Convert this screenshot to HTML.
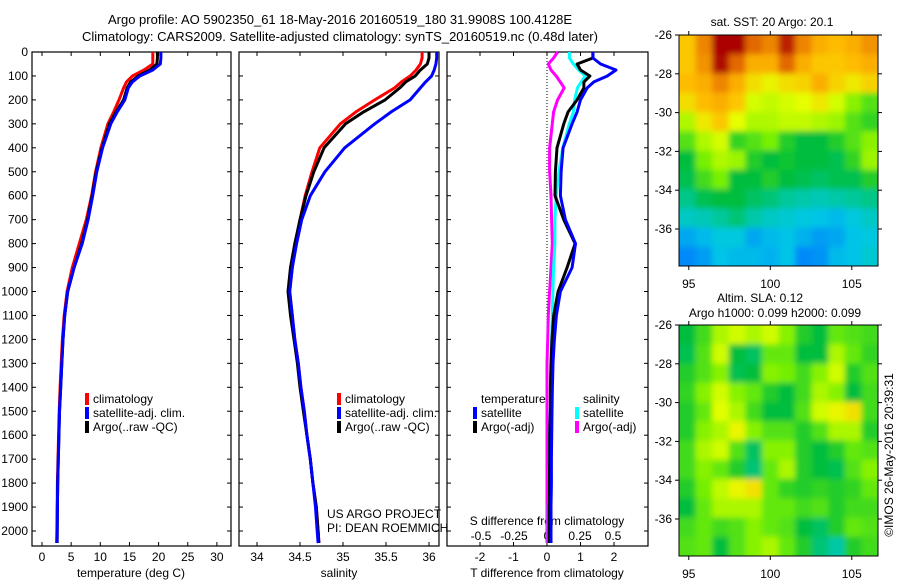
<!DOCTYPE html>
<html><head><meta charset="utf-8"><style>
html,body{margin:0;padding:0;background:#fff}
svg{display:block;font-family:"Liberation Sans",sans-serif}
</style></head><body>
<svg id="fig" width="900" height="580" viewBox="0 0 900 580">
<defs>
<clipPath id="cm1"><rect x="679" y="35" width="199" height="231"/></clipPath>
<clipPath id="cm2"><rect x="679" y="325" width="199" height="231"/></clipPath>
<filter id="bl" x="-5%" y="-5%" width="110%" height="110%"><feGaussianBlur stdDeviation="3"/></filter>
</defs>
<text x="340" y="24" font-size="13" text-anchor="middle">Argo profile: AO 5902350_61 18-May-2016 20160519_180 31.9908S 100.4128E</text>
<text x="340" y="41" font-size="13" text-anchor="middle">Climatology: CARS2009. Satellite-adjusted climatology: synTS_20160519.nc (0.48d later)</text>
<g id="g"></g>
</svg>
<script>
// depth levels (m)
const depths=[0,25,50,75,100,125,150,200,250,300,400,500,600,700,800,900,1000,1100,1200,1300,1400,1500,1600,1700,1800,1900,2000,2050];
const tempClim=[19,19,19,17.5,15.5,14.5,14.0,13.2,12.3,11.3,10.1,9.2,8.5,7.6,6.4,5.2,4.3,3.8,3.5,3.3,3.1,2.95,2.85,2.75,2.65,2.6,2.55,2.5];
const tempSat=[20.4,20.4,20.3,19,16.8,15.5,14.8,14.2,12.9,11.8,10.4,9.4,8.7,7.9,6.9,5.5,4.4,3.9,3.6,3.4,3.2,3.0,2.9,2.8,2.7,2.65,2.6,2.55];
const tempArgo=[19.8,19.8,19.7,18.5,16.5,15.2,14.6,14.0,12.7,11.6,10.3,9.3,8.6,7.8,6.8,5.5,4.4,3.9,3.6,3.4,3.2,3.0,2.9,2.8,2.7,2.65,2.6,2.6];
const salClim=[35.92,35.92,35.9,35.85,35.78,35.68,35.6,35.37,35.15,34.97,34.73,34.64,34.56,34.5,34.45,34.41,34.38,34.41,34.44,34.48,34.51,34.55,34.58,34.62,34.65,34.69,34.71,34.72];
const salSat=[36.09,36.09,36.08,36.06,36.03,35.96,35.9,35.78,35.56,35.37,35.02,34.79,34.62,34.52,34.46,34.41,34.38,34.41,34.44,34.48,34.51,34.55,34.58,34.62,34.65,34.68,34.7,34.71];
const salArgo=[36.0,36.0,35.98,35.9,35.84,35.73,35.66,35.49,35.24,35.03,34.78,34.66,34.57,34.5,34.44,34.39,34.36,34.39,34.43,34.47,34.5,34.54,34.58,34.62,34.65,34.69,34.71,34.72];
const dTsat=[1.37,1.37,1.6,2.06,1.8,1.4,1.2,1.0,0.9,0.75,0.48,0.42,0.4,0.55,0.85,0.75,0.4,0.28,0.22,0.18,0.16,0.15,0.14,0.13,0.13,0.12,0.12,0.12];
const dTargo=[1.37,1.37,0.9,1.0,1.28,1.1,1.1,0.9,0.63,0.5,0.3,0.25,0.24,0.5,0.84,0.6,0.33,0.2,0.15,0.12,0.1,0.1,0.08,0.08,0.07,0.06,0.06,0.06];
const dSsat=[0.17,0.17,0.2,0.24,0.29,0.26,0.23,0.21,0.2,0.17,0.12,0.09,0.07,0.06,0.06,0.05,0.045,0.04,0.035,0.03,0.03,0.025,0.02,0.02,0.015,0.01,0.01,0.01];
const dSargo=[0.08,0.05,0.01,0.03,0.07,0.1,0.13,0.08,0.05,0.04,0.02,0.02,0.03,0.035,0.04,0.03,0.02,0.01,0.005,0,0,0,0,0,0,0,0,0];
const depthTicks=[0,100,200,300,400,500,600,700,800,900,1000,1100,1200,1300,1400,1500,1600,1700,1800,1900,2000];
const tempTicks=[0,5,10,15,20,25,30];
const salTicks=[34,34.5,35,35.5,36];
const dTTicks=[-2,-1,0,1,2];
const dSTicks=[-0.5,-0.25,0,0.25,0.5];
const dSTickLabels=['-0.5','-0.25','0','0.25','0.5'];
const mapLatTicks=[-26,-28,-30,-32,-34,-36];
const mapLonTicks=[95,100,105];
// SST map rows (north->south), 12 cols 94.4..106.6E
const sstGrid=[
[20.8,21.3,22,22,21.5,21.3,21.8,21.3,21,20.9,21,21.2],
[20.8,21.2,21.9,21.5,21,21,21.5,21,20.8,20.8,20.9,21],
[20.9,21,21.3,21,20.6,20.4,20.6,20.7,21,20.7,20.5,20.7],
[20.6,20.9,21,20.8,20.2,20.1,20.2,20.3,20.5,20.2,19.8,19.5],
[20,20.5,20.8,20.3,20,20,20.1,20.1,20,19.9,19.5,19.3],
[19.5,20,20.2,19.3,19.5,19.7,19.2,19,19,19.2,19.5,19.8],
[19,19.7,20,19.9,19.2,19,19.1,19,19,18.9,19.3,19.9],
[18.9,19.4,19.7,19,19,19.2,19,18.9,18.8,18.9,18.9,19.2],
[18.6,18.9,19,19,18.8,18.7,18.5,18.4,18.3,18.4,18.5,18.6],
[18.2,18.3,18.5,18.7,18.4,18.2,18.1,18,17.9,17.8,18,18.2],
[17.6,17.8,18,18,17.6,17.8,17.9,17.7,17.5,17.6,17.9,18],
[17.3,17.5,17.9,17.8,17.8,17.7,17.9,17.3,17.4,17.8,17.9,18.1]];
const slaGrid=[
[0.0,0.04,0.1,0.12,0.1,0.12,0.08,0.02,0.0,0.06,0.05,0.04],
[-0.01,0.05,0.12,0.0,-0.02,0.06,0.06,0.0,0.0,0.1,0.06,0.03],
[0.02,0.05,0.08,-0.01,0.0,0.08,0.07,0.04,0.08,0.12,0.02,0.05],
[0.03,0.08,0.12,0.08,0.06,0.02,0.0,0.04,0.1,0.08,0.0,0.04],
[0.02,0.06,0.13,0.1,0.04,0.0,0.0,0.05,0.12,0.14,0.16,0.04],
[0.02,0.08,0.1,0.14,0.08,0.05,0.05,0.02,0.05,0.1,0.1,0.02],
[0.04,0.1,0.12,0.05,-0.02,0.08,0.08,0.02,0.0,0.02,0.06,0.05],
[0.04,0.08,0.06,0.02,-0.03,0.06,0.1,0.02,0.0,-0.01,0.05,0.08],
[0.02,0.07,0.11,0.14,0.16,0.06,0.03,0.02,0.03,0.02,0.03,0.06],
[0.0,0.06,0.1,0.1,0.1,0.06,0.06,0.04,0.05,0.02,0.04,0.04],
[0.04,0.06,0.04,0.05,0.08,0.06,0.05,0.0,-0.02,0.02,0.06,0.05],
[0.05,0.06,0.0,0.05,0.08,0.1,0.06,0.02,-0.03,-0.06,0.02,0.04]];

const NS='http://www.w3.org/2000/svg';
const G=document.getElementById('g');
function mk(tag,at,parent){const e=document.createElementNS(NS,tag);for(const k in at)e.setAttribute(k,at[k]);(parent||G).appendChild(e);return e;}
function txt(x,y,s,anchor,size,parent){const t=mk('text',{x:x,y:y,'font-size':size||12,'text-anchor':anchor||'start'},parent);t.textContent=s;return t;}
const yD=d=>52+d*0.2395;
const xT=v=>42+v*5.83;
const xS=v=>257+(v-34)*86;
const xDT=v=>547+v*33.5;
const xDS=v=>547+v*132;
const panels=[[32,231],[239,439],[447,648]];
panels.forEach((p,i)=>{
  const r=mk('rect',{x:p[0],y:52,width:p[1]-p[0],height:494,fill:'none',stroke:'#000','stroke-width':1.2});
  
  
  depthTicks.forEach(d=>{mk('line',{x1:p[0],x2:p[0]+4,y1:yD(d),y2:yD(d),stroke:'#000'});mk('line',{x1:p[1],x2:p[1]-4,y1:yD(d),y2:yD(d),stroke:'#000'});});
});
depthTicks.forEach(d=>{const t=txt(28,yD(d)+4,String(d),'end');
  
  });
tempTicks.forEach(v=>{mk('line',{x1:xT(v),x2:xT(v),y1:546,y2:542,stroke:'#000'});mk('line',{x1:xT(v),x2:xT(v),y1:52,y2:56,stroke:'#000'});
  const t=txt(xT(v),561,String(v),'middle');
  
  });
salTicks.forEach(v=>{mk('line',{x1:xS(v),x2:xS(v),y1:546,y2:542,stroke:'#000'});mk('line',{x1:xS(v),x2:xS(v),y1:52,y2:56,stroke:'#000'});
  const t=txt(xS(v),561,String(v),'middle');
  
  });
dTTicks.forEach(v=>{mk('line',{x1:xDT(v),x2:xDT(v),y1:546,y2:542,stroke:'#000'});mk('line',{x1:xDT(v),x2:xDT(v),y1:52,y2:56,stroke:'#000'});
  const t=txt(xDT(v),561,String(v),'middle');
  
  });
dSTicks.forEach((v,i)=>{const t=txt(xDS(v),540,dSTickLabels[i],'middle');
  
  });
let a=txt(131,577,'temperature (deg C)','middle');
a=txt(339,577,'salinity','middle');
a=txt(547,577,'T difference from climatology','middle');
a=txt(547,525,'S difference from climatology','middle');
a=txt(327,518,'US ARGO PROJECT');
a=txt(327,532,'PI: DEAN ROEMMICH');
a=mk('line',{x1:547,x2:547,y1:52,y2:546,stroke:'#000','stroke-dasharray':'1,2'});

function line(vals,xf,color,name){
  const pts=vals.map((v,i)=>xf(v).toFixed(1)+','+yD(depths[i]).toFixed(1)).join(' ');
  const l=mk('polyline',{points:pts,fill:'none',stroke:color,'stroke-width':3,'stroke-linejoin':'round'});
  
  
}
line(tempClim,xT,'#f00','temp-climatology-line');
line(tempArgo,xT,'#000','temp-argo-line');
line(tempSat,xT,'#00f','temp-satellite-line');
line(salClim,xS,'#f00','sal-climatology-line');
line(salArgo,xS,'#000','sal-argo-line');
line(salSat,xS,'#00f','sal-satellite-line');
line(dSargo,xDS,'#f0f','s-diff-argo-line');
line(dSsat,xDS,'#0ff','s-diff-satellite-line');
line(dTargo,xDT,'#000','t-diff-argo-line');
line(dTsat,xDT,'#00f','t-diff-satellite-line');
function legend(x,y,color,label,name){
  const g=mk('g',{});
  
  
  mk('rect',{x:x,y:y-10,width:4,height:12,fill:color},g);
  txt(x+8,y,label,'start',12,g);
}
legend(85,403,'#f00','climatology','legend-temp-climatology');
legend(85,417,'#00f','satellite-adj. clim.','legend-temp-satellite');
legend(85,431,'#000','Argo(..raw -QC)','legend-temp-argo');
legend(337,403,'#f00','climatology','legend-sal-climatology');
legend(337,417,'#00f','satellite-adj. clim.','legend-sal-satellite');
legend(337,431,'#000','Argo(..raw -QC)','legend-sal-argo');
a=txt(481,403,'temperature');
a=txt(583,403,'salinity');
legend(473,417,'#00f','satellite','legend-t-diff-satellite');
legend(473,431,'#000','Argo(-adj)','legend-t-diff-argo');
legend(575,417,'#0ff','satellite','legend-s-diff-satellite');
legend(575,431,'#f0f','Argo(-adj)','legend-s-diff-argo');
const stops=[[0,[0,50,190]],[0.18,[0,120,255]],[0.32,[0,200,230]],[0.42,[0,200,150]],[0.5,[0,190,60]],[0.62,[120,240,0]],[0.72,[230,255,0]],[0.82,[255,190,0]],[0.92,[230,110,0]],[1,[170,0,0]]];
function cmap(t){t=Math.max(0,Math.min(1,t));for(let i=1;i<stops.length;i++){if(t<=stops[i][0]){const a=stops[i-1],b=stops[i],f=(t-a[0])/(b[0]-a[0]);return 'rgb('+a[1].map((c,k)=>Math.round(c+(b[1][k]-c)*f)).join(',')+')';}}return 'rgb(170,0,0)';}
const xLon=v=>679+(v-94.4)*16.3;
function drawMap(grid,top,tf,clip,name){
  const outer=mk('g',{'clip-path':'url(#'+clip+')'});
  
  
  const inner=mk('g',{filter:'url(#bl)'},outer);
  const nr=grid.length,nc=grid[0].length,cw=199/nc,ch=231/nr;
  grid.forEach((row,r)=>row.forEach((v,c)=>{
    const cell=mk('rect',{x:679+c*cw-12*(c===0),y:top+r*ch-12*(r===0),width:cw+0.5+12*(c===0||c===nc-1),height:ch+0.5+12*(r===0||r===nr-1),fill:cmap(tf(v))},inner);
    
    
  }));
  mk('rect',{x:679,y:top,width:199,height:231,fill:'none',stroke:'#000'});
  const yLat=v=>top+(-26-v)*19.4;
  mapLatTicks.forEach(v=>{mk('line',{x1:679,x2:675,y1:yLat(v),y2:yLat(v),stroke:'#000'});mk('line',{x1:878,x2:882,y1:yLat(v),y2:yLat(v),stroke:'#000'});
    const t=txt(672,yLat(v)+4,String(v),'end');
    
    });
  mapLonTicks.forEach(v=>{mk('line',{x1:xLon(v),x2:xLon(v),y1:top,y2:top-4,stroke:'#000'});mk('line',{x1:xLon(v),x2:xLon(v),y1:top+231,y2:top+235,stroke:'#000'});
    const t=txt(xLon(v),top+253,String(v),'middle');
    
    });
}
drawMap(sstGrid,35,v=>0.5+(v-19)*0.17,'cm1','sst-map');
drawMap(slaGrid,325,v=>0.5+v/0.6,'cm2','sla-map');
a=txt(772,26,'sat. SST: 20 Argo: 20.1','middle');
a=txt(760,302,'Altim. SLA: 0.12','middle');
a=txt(775,317,'Argo h1000: 0.099 h2000: 0.099','middle');
a=txt(0,0,'©IMOS 26-May-2016 20:39:31','middle');a.setAttribute('transform','translate(893,455) rotate(-90)');

</script>
</body></html>
